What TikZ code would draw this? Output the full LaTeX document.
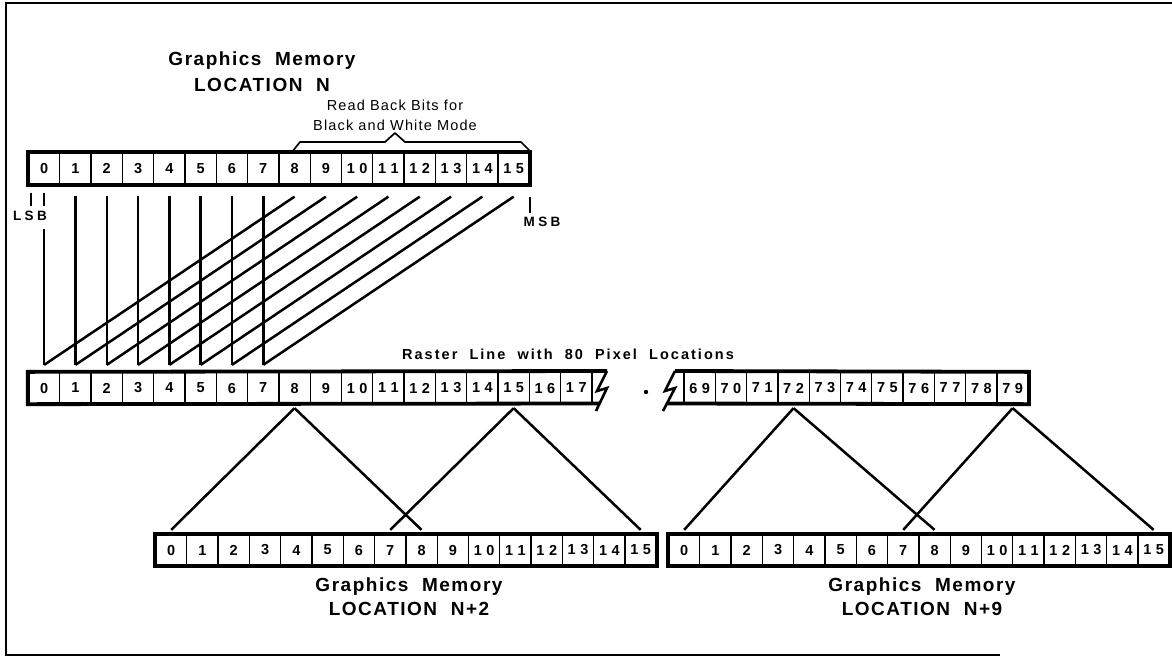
\documentclass[tikz,border=0pt]{standalone}
\usepackage{fontspec}
\setmainfont{Liberation Sans}
\def\splitnum#1#2\relax{#1\hspace{4.5pt}#2}
\newcommand\cellnum[1]{\ifnum#1>9 \expandafter\splitnum#1\relax\else#1\fi}
\newcommand\dfont{\fontsize{14.5pt}{14.5pt}\selectfont\bfseries}
\newcommand\tfont{\fontsize{19pt}{21pt}\selectfont\bfseries\addfontfeature{LetterSpace=8}}
\newcommand\rfont{\fontsize{14.5pt}{16pt}\selectfont\bfseries\addfontfeature{LetterSpace=14}}
\newcommand\nfont{\fontsize{14.5pt}{16pt}\selectfont\addfontfeature{LetterSpace=8}}
\newcommand\lfont{\fontsize{13.5pt}{14pt}\selectfont\bfseries\addfontfeature{LetterSpace=25}}
\tikzset{
  cell/.style={draw, line width=1.3pt, minimum width=31.3pt, minimum height=31pt, inner sep=0pt, font=\dfont},
  regbox/.style={draw, line width=3.8pt, line join=miter},
  conn/.style={line width=2.5pt},
  tick/.style={line width=1.8pt},
  brace/.style={line width=1.7pt, line join=round},
  bolt/.style={line width=2.6pt, line join=miter},
  frame/.style={line width=2.2pt},
  title/.style={inner sep=0pt, font=\tfont},
  rtitle/.style={inner sep=0pt, font=\rfont},
  note/.style={inner sep=0pt, font=\nfont},
  lbl/.style={inner sep=0pt, font=\lfont}
}
\begin{document}
\begin{tikzpicture}[x=1pt, y=-1pt]
\useasboundingbox (0,0) rectangle (1172,657);
% frame
\draw[frame] (1172,3) -- (6,3) -- (6,655) -- (1000,655);
% titles
\node[title] (tt1) at (262,61) {Graphics\ \ Memory};
\node[title] (tt2) at (262,85) {LOCATION\ \ N};
\node[note] (rb1) at (395,105) {Read Back Bits for};
\node[note] (rb2) at (395,125) {Black and White Mode};
% top register
\foreach \i in {0,...,15} \node[cell] (t\i) at (44.15+31.3*\i,168.5) {\cellnum{\i}};
\draw[regbox] (t0.north west) rectangle (t15.south east);
% brace
\draw[brace] (292,152) -- (300,142) -- (385,142) -- (395,133) -- (405,142) -- (521,142) -- (530,151);
% LSB / MSB
\draw[tick] ([xshift=-13.5pt,yshift=-8pt]t0.south) -- ([xshift=-13.5pt,yshift=-21pt]t0.south);
\draw[tick] ([yshift=-8pt]t0.south) -- ([yshift=-21pt]t0.south);
\node[lbl] (lsb) at (30,216) {LSB};
\draw[tick] ([yshift=-12pt]t15.south east) -- ([yshift=-28pt]t15.south east);
\node[lbl] (msb) at (542,222) {MSB};
% raster line
\node[rtitle] (rt) at (568,354) {Raster\ \ Line\ \ with\ \ 80\ \ Pixel\ \ Locations};
\foreach \i in {0,...,17} \node[cell] (r\i) at (44.15+31.3*\i,388) {\cellnum{\i}};
\foreach \i in {69,...,79} \node[cell] (r\i) at (699.65+31.3*\i-31.3*69,388) {\cellnum{\i}};
\coordinate (b1t) at (607,371);
\coordinate (b1b) at (599,403.5);
\coordinate (b2t) at (675,371);
\coordinate (b2b) at (667,403.5);
\draw[regbox] (b1t) -- (r0.north west) -- (r0.south west) -- (b1b);
\draw[regbox] (b2t) -- (r79.north east) -- (r79.south east) -- (b2b);
\draw[bolt] (b1t) -- (597,391) -- (607,388) -- (596,411);
\draw[bolt] (b2t) -- (665,391) -- (675,388) -- (663,411);
\fill (646,392) circle (2.2pt);
% connectors top -> raster
\draw[conn] ([yshift=-44pt]t0.south) -- ([yshift=7pt]r0.north);
\foreach \k in {1,...,7} \draw[conn] ([yshift=-11pt]t\k.south) -- ([yshift=7pt]r\k.north);
\foreach \k [evaluate=\k as \m using int(\k+8)] in {0,...,7} \draw[conn] ([yshift=-12pt]t\m.south) -- ([yshift=7pt]r\k.north);
% bottom registers
\foreach \i in {0,...,15} \node[cell] (a\i) at (171.15+31.3*\i,550) {\cellnum{\i}};
\draw[regbox] (a0.north west) rectangle (a15.south east);
\foreach \i in {0,...,15} \node[cell] (b\i) at (684.15+31.3*\i,550) {\cellnum{\i}};
\draw[regbox] (b0.north west) rectangle (b15.south east);
% connectors raster -> bottom
\draw[conn] ([yshift=-4pt]r8.south) -- ([yshift=4pt]a0.north);
\draw[conn] ([yshift=-4pt]r8.south) -- ([yshift=4pt]a8.north);
\draw[conn] ([yshift=-4pt]r15.south) -- ([yshift=4pt]a7.north);
\draw[conn] ([yshift=-4pt]r15.south) -- ([yshift=4pt]a15.north);
\draw[conn] ([yshift=-4pt]r72.south) -- ([yshift=4pt]b0.north);
\draw[conn] ([yshift=-4pt]r72.south) -- ([yshift=4pt]b8.north);
\draw[conn] ([yshift=-4pt]r79.south) -- ([yshift=4pt]b7.north);
\draw[conn] ([yshift=-4pt]r79.south) -- ([yshift=4pt]b15.north);
% bottom titles
\node[title] (bt1) at (409,587) {Graphics\ \ Memory};
\node[title] (bt2) at (409,609) {LOCATION\ \ N+2};
\node[title] (bt3) at (922,587) {Graphics\ \ Memory};
\node[title] (bt4) at (922,609) {LOCATION\ \ N+9};
\end{tikzpicture}
\end{document}
